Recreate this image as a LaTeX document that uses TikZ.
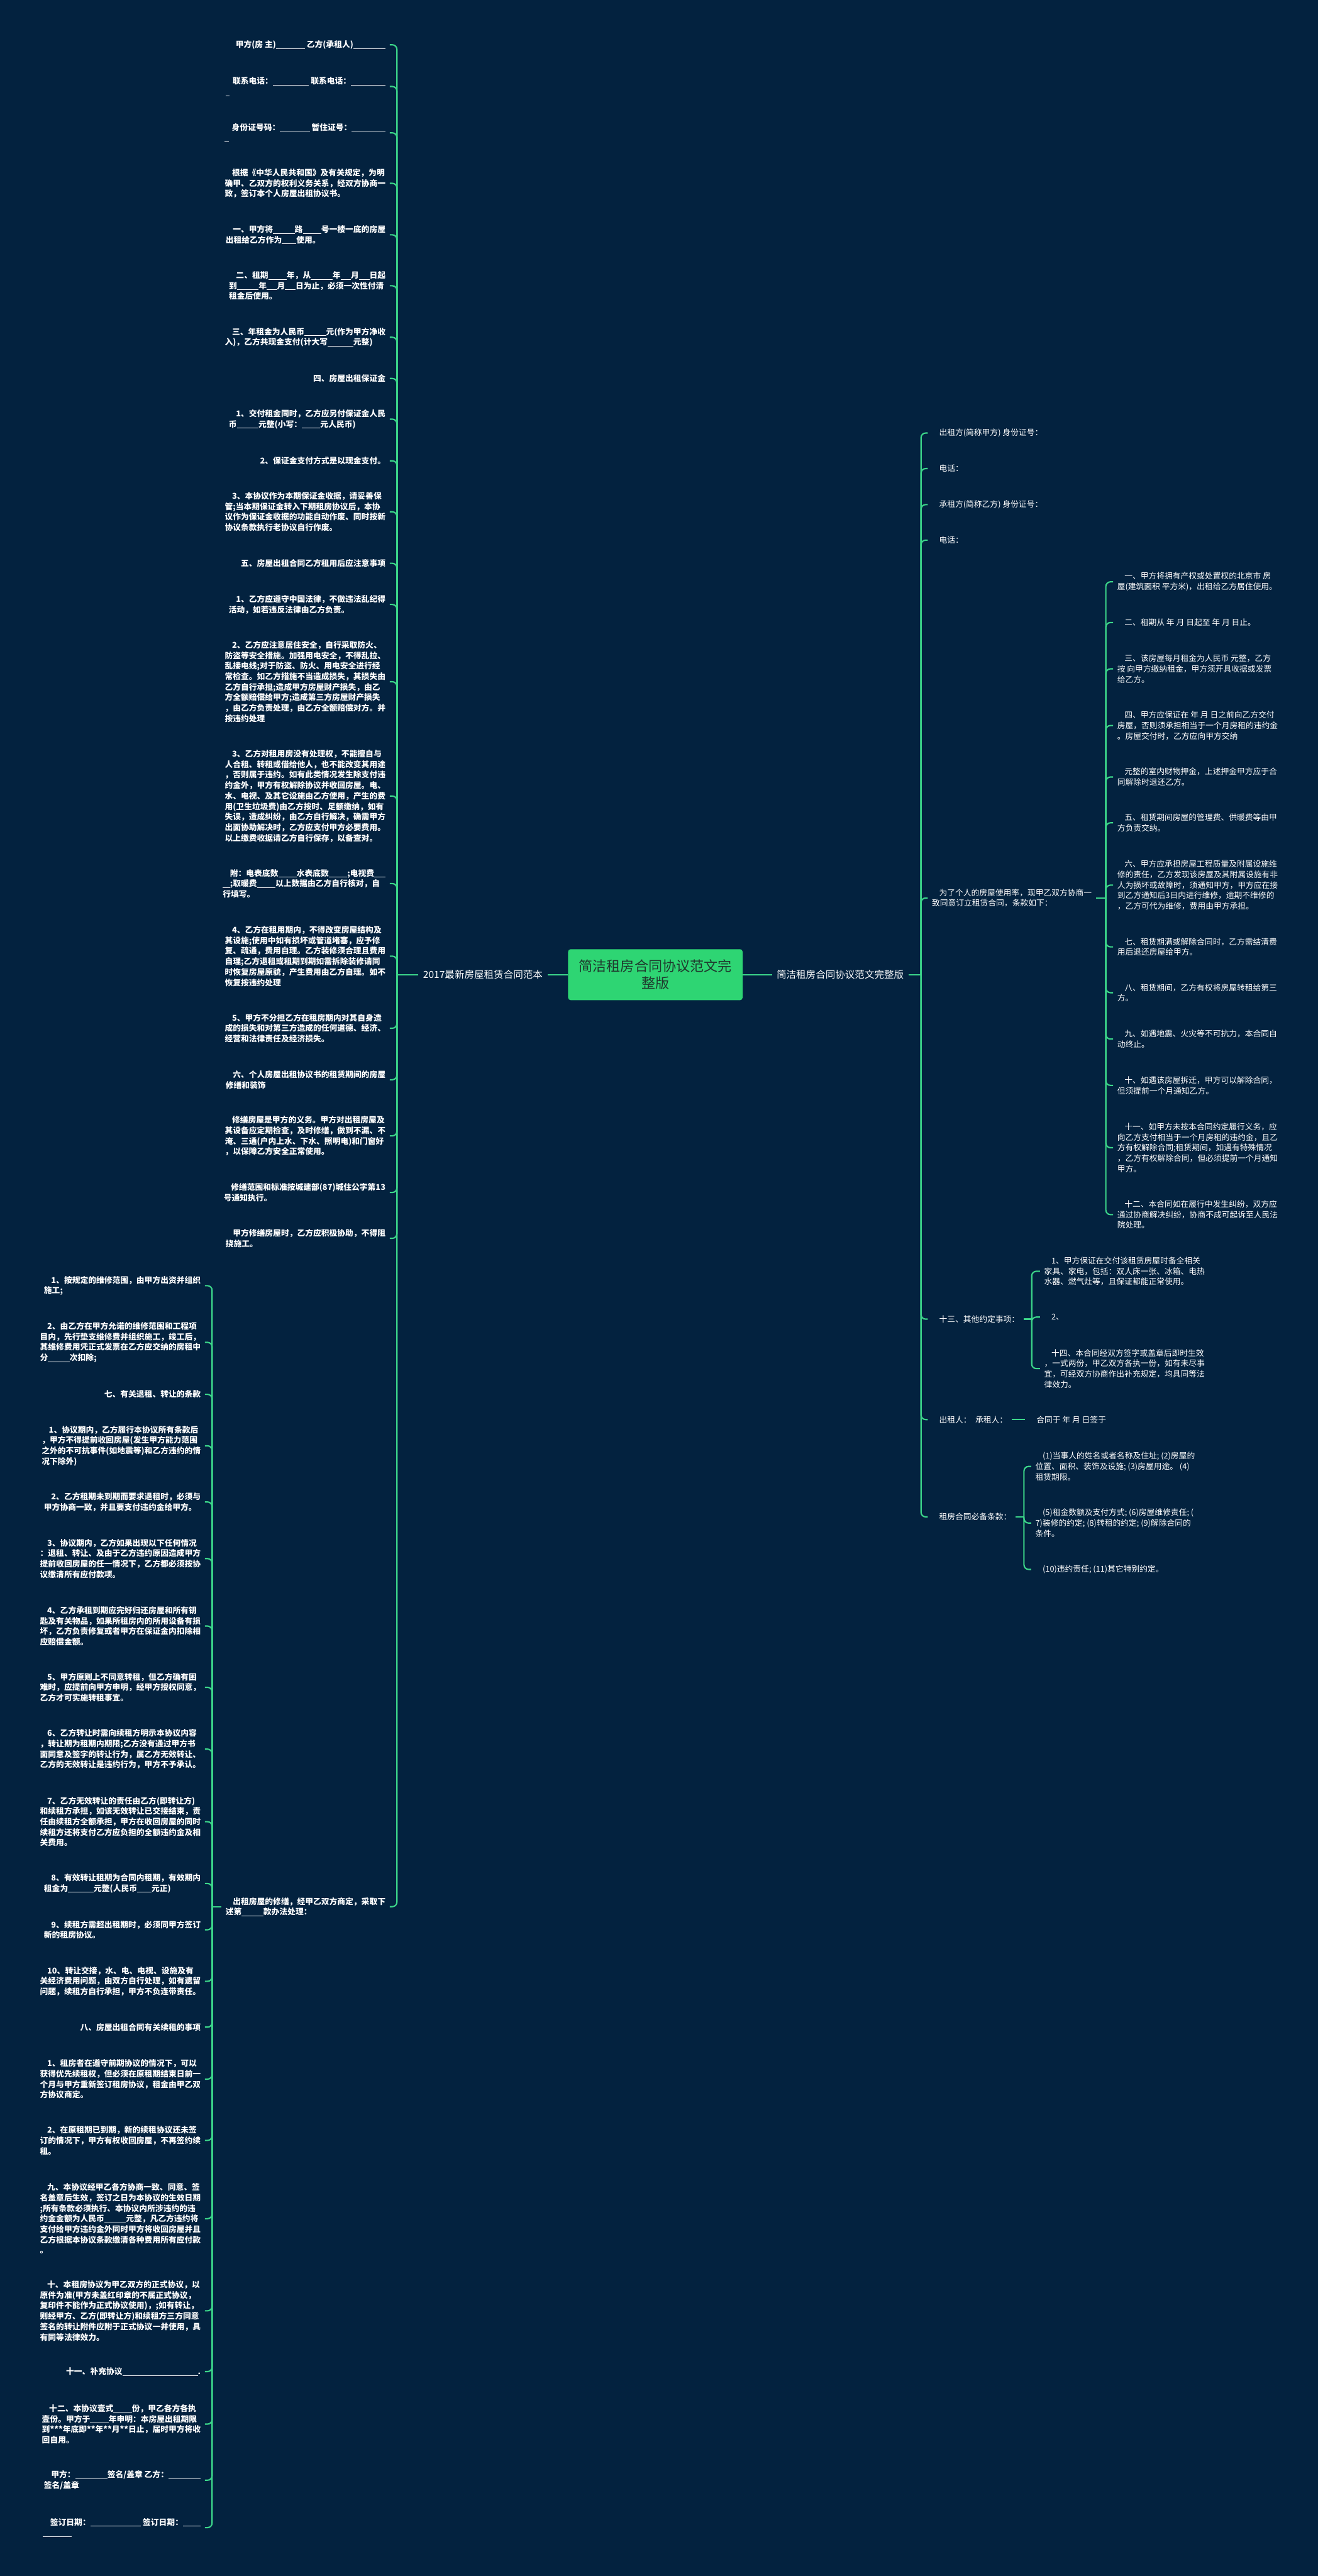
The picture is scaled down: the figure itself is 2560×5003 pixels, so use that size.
\documentclass[tikz,border=0pt]{standalone}
\usepackage{fontspec}
\setmainfont{Noto Sans CJK SC}
\definecolor{navy}{HTML}{03223F}
\definecolor{twiggreen}{HTML}{3CD68A}
\definecolor{rootgreen}{HTML}{2ED573}
\definecolor{rootink}{HTML}{1F3A2E}
\newcommand{\blank}[1]{\rule[-0.14em]{#1em}{0.06em}}
\newcommand{\ind}{\hspace*{0.9em}}
\tikzset{twig/.style={draw=twiggreen,line width=2.6pt},
  elbow/.style={twig,rounded corners=9pt,to path={|- (\tikztotarget)}},
  rootbox/.style={fill=rootgreen,rounded corners=5pt,minimum width=339pt,minimum height=99pt,align=center,text=rootink,font=\fontsize{27pt}{33pt}\selectfont},
  mainbox/.style={text=white,inner xsep=9pt,font=\fontsize{19pt}{23pt}\selectfont},
  leafL/.style={anchor=east,text=white,align=left,inner xsep=8pt,inner ysep=2pt,font=\fontsize{15.6pt}{20.4pt}\selectfont\bfseries},
  leafR/.style={anchor=west,text=white,align=left,inner xsep=8pt,inner ysep=2pt,font=\fontsize{15.6pt}{20.4pt}\selectfont}}
\begin{document}
\begin{tikzpicture}[x=1pt,y=-1pt]
    \useasboundingbox (0,0) rectangle (2560,5003);
    \fill[navy] (0,0) rectangle (2560,5003);
    \node[rootbox] (root) at (1273,1893) {简洁租房合同协议范文完\\整版};
    \node[mainbox] (mainL) at (938,1893) {2017最新房屋租赁合同范本};
    \node[mainbox] (mainR) at (1632,1893) {简洁租房合同协议范文完整版};
    \coordinate (ju) at (771,1893);
    \coordinate (jl) at (412,3703);
    \coordinate (jr) at (1789,1893);
    \coordinate (jr5) at (2148,1744);
    \coordinate (jr6) at (2004,2562);
    \coordinate (jr8) at (1989,2946);

    \node[leafL] (u1) at (757,87) {\ind 甲方(房 主)\blank{3.6} 乙方(承租人)\blank{4}};
    \node[leafL] (u2) at (757,168) {\ind 联系电话：\blank{4.5} 联系电话：\blank{4.3}\\\blank{0.5}};
    \node[leafL] (u3) at (757,258) {\ind 身份证号码：\blank{3.7} 暂住证号：\blank{4.2}\\\blank{0.5}};
    \node[leafL] (u4) at (757,356) {\ind 根据《中华人民共和国》及有关规定，为明\\确甲、乙双方的权利义务关系，经双方协商一\\致，签订本个人房屋出租协议书。};
    \node[leafL] (u5) at (757,456) {\ind 一、甲方将\blank{2.7}路\blank{2.3}号一楼一底的房屋\\出租给乙方作为\blank{1.8}使用。};
    \node[leafL] (u6) at (757,555) {\ind 二、租期\blank{2.3}年，从\blank{2.7}年\blank{1.3}月\blank{1.3}日起\\到\blank{2.7}年\blank{1.3}月\blank{1.3}日为止，必须一次性付清\\租金后使用。};
    \node[leafL] (u7) at (757,655) {\ind 三、年租金为人民币\blank{2.7}元(作为甲方净收\\入)，乙方共现金支付(计大写\blank{3.2}元整)};
    \node[leafL] (u8) at (757,735) {四、房屋出租保证金};
    \node[leafL] (u9) at (757,814) {\ind 1、交付租金同时，乙方应另付保证金人民\\币\blank{2.7}元整(小写：\blank{2.3}元人民币)};
    \node[leafL] (u10) at (757,895) {2、保证金支付方式是以现金支付。};
    \node[leafL] (u11) at (757,994) {\ind 3、本协议作为本期保证金收据，请妥善保\\管;当本期保证金转入下期租房协议后，本协\\议作为保证金收据的功能自动作废、同时按新\\协议条款执行老协议自行作废。};
    \node[leafL] (u12) at (757,1094) {五、房屋出租合同乙方租用后应注意事项};
    \node[leafL] (u13) at (757,1174) {\ind 1、乙方应遵守中国法律，不做违法乱纪得\\活动，如若违反法律由乙方负责。};
    \node[leafL] (u14) at (757,1324) {\ind 2、乙方应注意居住安全，自行采取防火、\\防盗等安全措施。加强用电安全，不得乱拉、\\乱接电线;对于防盗、防火、用电安全进行经\\常检查。如乙方措施不当造成损失，其损失由\\乙方自行承担;造成甲方房屋财产损失，由乙\\方全额赔偿给甲方;造成第三方房屋财产损失\\，由乙方负责处理，由乙方全额赔偿对方。并\\按违约处理};
    \node[leafL] (u15) at (757,1546) {\ind 3、乙方对租用房没有处理权，不能擅自与\\人合租、转租或借给他人，也不能改变其用途\\，否则属于违约。如有此类情况发生除支付违\\约金外，甲方有权解除协议并收回房屋。电、\\水、电视、及其它设施由乙方使用，产生的费\\用(卫生垃圾费)由乙方按时、足额缴纳，如有\\失误，造成纠纷，由乙方自行解决，确需甲方\\出面协助解决时，乙方应支付甲方必要费用。\\以上缴费收据请乙方自行保存，以备查对。};
    \node[leafL] (u16) at (757,1716) {\ind 附：电表底数\blank{2.3}水表底数\blank{2.3};电视费\blank{1.4}\\\blank{0.9};取暖费\blank{2.3}以上数据由乙方自行核对，自\\行填写。};
    \node[leafL] (u17) at (757,1857) {\ind 4、乙方在租用期内，不得改变房屋结构及\\其设施;使用中如有损坏或管道堵塞，应予修\\复、疏通，费用自理。乙方装修须合理且费用\\自理;乙方退租或租期到期如需拆除装修请同\\时恢复房屋原貌，产生费用由乙方自理。如不\\恢复按违约处理};
    \node[leafL] (u18) at (757,1997) {\ind 5、甲方不分担乙方在租房期内对其自身造\\成的损失和对第三方造成的任何道德、经济、\\经营和法律责任及经济损失。};
    \node[leafL] (u19) at (757,2097) {\ind 六、个人房屋出租协议书的租赁期间的房屋\\修缮和装饰};
    \node[leafL] (u20) at (757,2206) {\ind 修缮房屋是甲方的义务。甲方对出租房屋及\\其设备应定期检查，及时修缮，做到不漏、不\\淹、三通(户内上水、下水、照明电)和门窗好\\，以保障乙方安全正常使用。};
    \node[leafL] (u21) at (757,2316) {\ind 修缮范围和标准按城建部(87)城住公字第13\\号通知执行。};
    \node[leafL] (u22) at (757,2405) {\ind 甲方修缮房屋时，乙方应积极协助，不得阻\\挠施工。};
    \node[leafL] (u23) at (757,3703) {\ind 出租房屋的修缮，经甲乙双方商定，采取下\\述第\blank{2.7}款办法处理：};

    \node[leafL] (l1) at (398,2497) {\ind 1、按规定的维修范围，由甲方出资并组织\\施工;};
    \node[leafL] (l2) at (398,2607) {\ind 2、由乙方在甲方允诺的维修范围和工程项\\目内，先行垫支维修费并组织施工，竣工后，\\其维修费用凭正式发票在乙方应交纳的房租中\\分\blank{2.7}次扣除;};
    \node[leafL] (l3) at (398,2708) {七、有关退租、转让的条款};
    \node[leafL] (l4) at (398,2808) {\ind 1、协议期内，乙方履行本协议所有条款后\\，甲方不得提前收回房屋(发生甲方能力范围\\之外的不可抗事件(如地震等)和乙方违约的情\\况下除外)};
    \node[leafL] (l5) at (398,2917) {\ind 2、乙方租期未到期而要求退租时，必须与\\甲方协商一致，并且要支付违约金给甲方。};
    \node[leafL] (l6) at (398,3027) {\ind 3、协议期内，乙方如果出现以下任何情况\\：退租、转让、及由于乙方违约原因造成甲方\\提前收回房屋的任一情况下，乙方都必须按协\\议缴清所有应付款项。};
    \node[leafL] (l7) at (398,3158) {\ind 4、乙方承租到期应完好归还房屋和所有钥\\匙及有关物品，如果所租房内的所用设备有损\\坏，乙方负责修复或者甲方在保证金内扣除相\\应赔偿金额。};
    \node[leafL] (l8) at (398,3277) {\ind 5、甲方原则上不同意转租，但乙方确有困\\难时，应提前向甲方申明，经甲方授权同意，\\乙方才可实施转租事宜。};
    \node[leafL] (l9) at (398,3397) {\ind 6、乙方转让时需向续租方明示本协议内容\\，转让期为租期内期限;乙方没有通过甲方书\\面同意及签字的转让行为，属乙方无效转让、\\乙方的无效转让是违约行为，甲方不予承认。};
    \node[leafL] (l10) at (398,3538) {\ind 7、乙方无效转让的责任由乙方(即转让方)\\和续租方承担，如该无效转让已交接结束，责\\任由续租方全额承担，甲方在收回房屋的同时\\续租方还将支付乙方应负担的全额违约金及相\\关费用。};
    \node[leafL] (l11) at (398,3658) {\ind 8、有效转让租期为合同内租期，有效期内\\租金为\blank{3.2}元整(人民币\blank{1.8}元正)};
    \node[leafL] (l12) at (398,3748) {\ind 9、续租方需超出租期时，必须同甲方签订\\新的租房协议。};
    \node[leafL] (l13) at (398,3848) {\ind 10、转让交接，水、电、电视、设施及有\\关经济费用问题，由双方自行处理，如有遗留\\问题，续租方自行承担，甲方不负连带责任。};
    \node[leafL] (l14) at (398,3937) {八、房屋出租合同有关续租的事项};
    \node[leafL] (l15) at (398,4038) {\ind 1、租房者在遵守前期协议的情况下，可以\\获得优先续租权，但必须在原租期结束日前一\\个月与甲方重新签订租房协议，租金由甲乙双\\方协议商定。};
    \node[leafL] (l16) at (398,4157) {\ind 2、在原租期已到期，新的续租协议还未签\\订的情况下，甲方有权收回房屋，不再签约续\\租。};
    \node[leafL] (l17) at (398,4309) {\ind 九、本协议经甲乙各方协商一致、同意、签\\名盖章后生效，签订之日为本协议的生效日期\\;所有条款必须执行、本协议内所涉违约的违\\约金金额为人民币\blank{2.7}元整，凡乙方违约将\\支付给甲方违约金外同时甲方将收回房屋并且\\乙方根据本协议条款缴清各种费用所有应付款\\。};
    \node[leafL] (l18) at (398,4488) {\ind 十、本租房协议为甲乙双方的正式协议，以\\原件为准(甲方未盖红印章的不属正式协议，\\复印件不能作为正式协议使用)，;如有转让，\\则经甲方、乙方(即转让方)和续租方三方同意\\签名的转让附件应附于正式协议一并使用，具\\有同等法律效力。};
    \node[leafL] (l19) at (398,4606) {十一、补充协议\blank{9.4}.};
    \node[leafL] (l20) at (398,4708) {\ind 十二、本协议壹式\blank{2.3}份，甲乙各方各执\\壹份。甲方于\blank{2.3}年申明：本房屋出租期限\\到***年底即**年**月**日止，届时甲方将收\\回自用。};
    \node[leafL] (l21) at (398,4817) {\ind 甲方：\blank{4}签名/盖章 乙方：\blank{4}\\签名/盖章};
    \node[leafL] (l22) at (398,4909) {\ind 签订日期：\blank{6.3} 签订日期：\blank{2.2}\\\blank{3.6}};

    \node[leafR] (r1) at (1802,841) {\ind 出租方(简称甲方) 身份证号：};
    \node[leafR] (r2) at (1802,910) {\ind 电话：};
    \node[leafR] (r3) at (1802,980) {\ind 承租方(简称乙方) 身份证号：};
    \node[leafR] (r4) at (1802,1049) {\ind 电话：};
    \node[leafR] (r5) at (1802,1744) {\ind 为了个人的房屋使用率，现甲乙双方协商一\\致同意订立租赁合同，条款如下：};
    \node[leafR] (r6) at (1802,2562) {\ind 十三、其他约定事项：};
    \node[leafR] (r7) at (1802,2757) {\ind 出租人：\hspace{0.5em}承租人：};
    \node[leafR] (r8) at (1802,2946) {\ind 租房合同必备条款：};

    \node[leafR] (a1) at (2162,1130) {\ind 一、甲方将拥有产权或处置权的北京市 房\\屋(建筑面积 平方米)，出租给乙方居住使用。};
    \node[leafR] (a2) at (2162,1209) {\ind 二、租期从 年 月 日起至 年 月 日止。};
    \node[leafR] (a3) at (2162,1299) {\ind 三、该房屋每月租金为人民币 元整，乙方\\按 向甲方缴纳租金，甲方须开具收据或发票\\给乙方。};
    \node[leafR] (a4) at (2162,1409) {\ind 四、甲方应保证在 年 月 日之前向乙方交付\\房屋，否则须承担相当于一个月房租的违约金\\。房屋交付时，乙方应向甲方交纳};
    \node[leafR] (a5) at (2162,1509) {\ind 元整的室内财物押金，上述押金甲方应于合\\同解除时退还乙方。};
    \node[leafR] (a6) at (2162,1598) {\ind 五、租赁期间房屋的管理费、供暖费等由甲\\方负责交纳。};
    \node[leafR] (a7) at (2162,1719) {\ind 六、甲方应承担房屋工程质量及附属设施维\\修的责任，乙方发现该房屋及其附属设施有非\\人为损坏或故障时，须通知甲方，甲方应在接\\到乙方通知后3日内进行维修，逾期不维修的\\，乙方可代为维修，费用由甲方承担。};
    \node[leafR] (a8) at (2162,1839) {\ind 七、租赁期满或解除合同时，乙方需结清费\\用后退还房屋给甲方。};
    \node[leafR] (a9) at (2162,1928) {\ind 八、租赁期间，乙方有权将房屋转租给第三\\方。};
    \node[leafR] (a10) at (2162,2018) {\ind 九、如遇地震、火灾等不可抗力，本合同自\\动终止。};
    \node[leafR] (a11) at (2162,2108) {\ind 十、如遇该房屋拆迁，甲方可以解除合同，\\但须提前一个月通知乙方。};
    \node[leafR] (a12) at (2162,2229) {\ind 十一、如甲方未按本合同约定履行义务，应\\向乙方支付相当于一个月房租的违约金，且乙\\方有权解除合同;租赁期间，如遇有特殊情况\\，乙方有权解除合同，但必须提前一个月通知\\甲方。};
    \node[leafR] (a13) at (2162,2359) {\ind 十二、本合同如在履行中发生纠纷，双方应\\通过协商解决纠纷，协商不成可起诉至人民法\\院处理。};

    \node[leafR] (b1) at (2020,2469) {\ind 1、甲方保证在交付该租赁房屋时备全相关\\家具、家电，包括：双人床一张、冰箱、电热\\水器、燃气灶等，且保证都能正常使用。};
    \node[leafR] (b2) at (2020,2558) {\ind 2、};
    \node[leafR] (b3) at (2020,2658) {\ind 十四、本合同经双方签字或盖章后即时生效\\，一式两份，甲乙双方各执一份，如有未尽事\\宜，可经双方协商作出补充规定，均具同等法\\律效力。};
    \node[leafR] (c1) at (1991,2757) {\ind 合同于 年 月 日签于};
    \node[leafR] (d1) at (2003,2848) {\ind (1)当事人的姓名或者名称及住址; (2)房屋的\\位置、面积、装饰及设施; (3)房屋用途。 (4)\\租赁期限。};
    \node[leafR] (d2) at (2003,2958) {\ind (5)租金数额及支付方式; (6)房屋维修责任; (\\7)装修的约定; (8)转租的约定; (9)解除合同的\\条件。};
    \node[leafR] (d3) at (2003,3048) {\ind (10)违约责任; (11)其它特别约定。};

    \path
    (root) edge[twig] (mainL)
    (root) edge[twig] (mainR)
    (mainL) edge[twig] (ju)
    (mainR) edge[twig] (jr)
    (u23) edge[twig] (jl)
    (r5) edge[twig] (jr5)
    (r6) edge[twig] (jr6)
    (r7) edge[twig] (c1)
    (r8) edge[twig] (jr8)
    ;
    \path
    (ju) edge[elbow] (u1.east) (ju) edge[elbow] (u2.east) (ju) edge[elbow] (u3.east)
    (ju) edge[elbow] (u4.east) (ju) edge[elbow] (u5.east) (ju) edge[elbow] (u6.east)
    (ju) edge[elbow] (u7.east) (ju) edge[elbow] (u8.east) (ju) edge[elbow] (u9.east)
    (ju) edge[elbow] (u10.east) (ju) edge[elbow] (u11.east) (ju) edge[elbow] (u12.east)
    (ju) edge[elbow] (u13.east) (ju) edge[elbow] (u14.east) (ju) edge[elbow] (u15.east)
    (ju) edge[elbow] (u16.east) (ju) edge[elbow] (u17.east) (ju) edge[elbow] (u18.east)
    (ju) edge[elbow] (u19.east) (ju) edge[elbow] (u20.east) (ju) edge[elbow] (u21.east)
    (ju) edge[elbow] (u22.east) (ju) edge[elbow] (u23.east)
    ;
    \path
    (jl) edge[elbow] (l1.east) (jl) edge[elbow] (l2.east) (jl) edge[elbow] (l3.east)
    (jl) edge[elbow] (l4.east) (jl) edge[elbow] (l5.east) (jl) edge[elbow] (l6.east)
    (jl) edge[elbow] (l7.east) (jl) edge[elbow] (l8.east) (jl) edge[elbow] (l9.east)
    (jl) edge[elbow] (l10.east) (jl) edge[elbow] (l11.east) (jl) edge[elbow] (l12.east)
    (jl) edge[elbow] (l13.east) (jl) edge[elbow] (l14.east) (jl) edge[elbow] (l15.east)
    (jl) edge[elbow] (l16.east) (jl) edge[elbow] (l17.east) (jl) edge[elbow] (l18.east)
    (jl) edge[elbow] (l19.east) (jl) edge[elbow] (l20.east) (jl) edge[elbow] (l21.east)
    (jl) edge[elbow] (l22.east)
    ;
    \path
    (jr) edge[elbow] (r1.west) (jr) edge[elbow] (r2.west) (jr) edge[elbow] (r3.west)
    (jr) edge[elbow] (r4.west) (jr) edge[elbow] (r5.west) (jr) edge[elbow] (r6.west)
    (jr) edge[elbow] (r7.west) (jr) edge[elbow] (r8.west)
    (jr5) edge[elbow] (a1.west) (jr5) edge[elbow] (a2.west) (jr5) edge[elbow] (a3.west)
    (jr5) edge[elbow] (a4.west) (jr5) edge[elbow] (a5.west) (jr5) edge[elbow] (a6.west)
    (jr5) edge[elbow] (a7.west) (jr5) edge[elbow] (a8.west) (jr5) edge[elbow] (a9.west)
    (jr5) edge[elbow] (a10.west) (jr5) edge[elbow] (a11.west) (jr5) edge[elbow] (a12.west)
    (jr5) edge[elbow] (a13.west)
    (jr6) edge[elbow] (b1.west) (jr6) edge[elbow] (b2.west) (jr6) edge[elbow] (b3.west)
    (jr8) edge[elbow] (d1.west) (jr8) edge[elbow] (d2.west) (jr8) edge[elbow] (d3.west)
    ;
\end{tikzpicture}
\end{document}
